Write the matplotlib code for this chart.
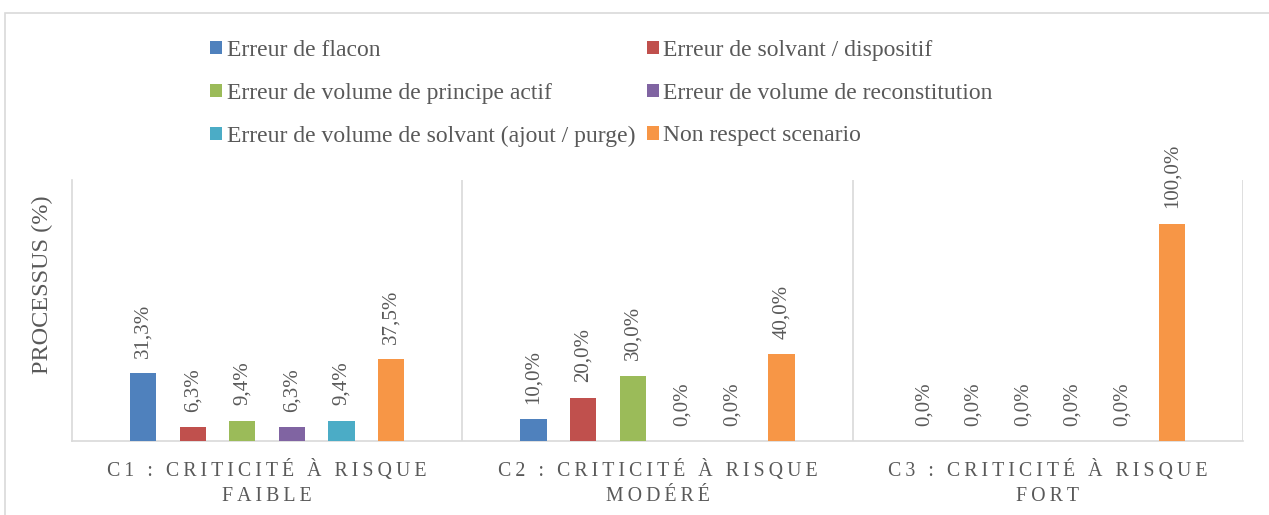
import numpy as np
import matplotlib
matplotlib.use("Agg")
import matplotlib.pyplot as plt
from matplotlib.patches import Rectangle

plt.rcParams['font.family'] = ['Liberation Serif', 'DejaVu Serif']

# -----------------------------
# Data
# -----------------------------
categories = ["C1 : CRITICITÉ À RISQUE\nFAIBLE",
              "C2 : CRITICITÉ À RISQUE\nMODÉRÉ",
              "C3 : CRITICITÉ À RISQUE\nFORT"]
series = ["Erreur de flacon",
          "Erreur de solvant / dispositif",
          "Erreur de volume de principe actif",
          "Erreur de volume de reconstitution",
          "Erreur de volume de solvant (ajout / purge)",
          "Non respect scenario"]
values = [
    [31.3, 10.0, 0.0],
    [6.3, 20.0, 0.0],
    [9.4, 30.0, 0.0],
    [6.3, 0.0, 0.0],
    [9.4, 0.0, 0.0],
    [37.5, 40.0, 100.0],
]
colors = ["#4F81BD", "#C0504D", "#9BBB59", "#8064A2", "#4BACC6", "#F79646"]

text_color = "#595959"
grid_color = "#D9D9D9"


def spaced(s, sep="\u2009"):
    # fake letter spacing
    return "\n".join(sep.join(list(line)) for line in s.split("\n"))


# -----------------------------
# Plot
# -----------------------------
W, H = 1269, 515
fig = plt.figure(figsize=(W / 100, H / 100), dpi=100)
ax = fig.add_axes([72 / W, 1 - 441 / H, (1243 - 72) / W, (441 - 180) / H])

x = np.arange(len(categories))
slot = 0.127
bw = 0.067
handles = []
for i, (name, vals) in enumerate(zip(series, values)):
    pos = x + (i - 2.5) * slot
    bars = ax.bar(pos, vals, width=bw, color=colors[i], label=name, zorder=3)
    handles.append(bars)
    for b, v in zip(bars, vals):
        ax.annotate(f"{v:.1f}%".replace(".", ","),
                    (b.get_x() + b.get_width() / 2, v),
                    xytext=(0, 11), textcoords="offset points",
                    rotation=90, ha="center", va="bottom",
                    fontsize=15, color=text_color)

ax.set_xlim(-0.5, 2.5)
ax.set_ylim(0, 120)
ax.set_yticks([])
ax.set_xticks(x)
ax.set_xticklabels([spaced(c) for c in categories], fontsize=14.3,
                   color=text_color, linespacing=1.4)
ax.tick_params(axis="x", length=0, pad=14)

for sp in ["top", "right"]:
    ax.spines[sp].set_visible(False)
for sp in ["left", "bottom"]:
    ax.spines[sp].set_color(grid_color)
    ax.spines[sp].set_linewidth(1.2)
for b in [0.5, 1.5, 2.5]:
    ax.axvline(b, color=grid_color, lw=1.2, zorder=1)

fig.text(42 / W, 1 - 285 / H, "PROCESSUS (%)", rotation=90,
         ha="center", va="center", fontsize=17.5, color=text_color)

# legend filled row by row like the original
order = [0, 2, 4, 1, 3, 5]
fig.legend([handles[i] for i in order], [series[i] for i in order],
           loc="upper left", bbox_to_anchor=(210 / W, 1 - 40 / H),
           ncol=2, frameon=False, fontsize=17, labelcolor=text_color,
           borderpad=0, borderaxespad=0,
           handlelength=0.5, handleheight=0.5, handletextpad=0.2,
           columnspacing=0.5, labelspacing=0.92)

# outer chart border
fig.patches.append(Rectangle((5 / W, -0.1), 1.2, 1 - 13 / H + 0.1,
                             transform=fig.transFigure, fill=False,
                             edgecolor=grid_color, lw=1.2))

fig.savefig("out.png", dpi=100)
